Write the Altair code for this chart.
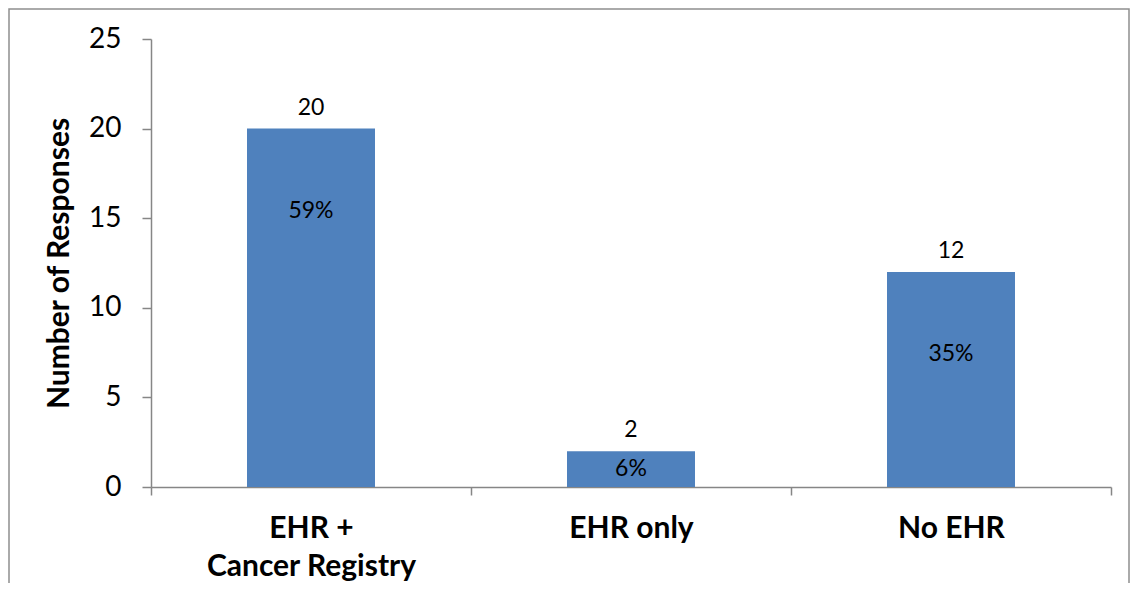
import altair as alt
import pandas as pd

categories = ["EHR +\nCancer Registry", "EHR only", "No EHR"]
counts = [20, 2, 12]
percents = [59, 6, 35]

df = pd.DataFrame({"cat": categories, "count": counts, "pct": percents})

FONT = "Lato"
GRAY = "#868686"

x_enc = alt.X(
    "cat:N",
    sort=categories,
    title=None,
    scale=alt.Scale(paddingInner=0, paddingOuter=0),
    axis=alt.Axis(
        labelAngle=0,
        labelFont=FONT,
        labelFontSize=30,
        labelFontWeight="bold",
        labelColor="black",
        labelPadding=18,
        labelLineHeight=38,
        labelLimit=0,
        labelExpr="split(datum.label, '\\n')",
        tickBand="extent",
        tickSize=8,
        tickColor=GRAY,
        tickWidth=1.5,
        domainColor=GRAY,
        domainWidth=1.5,
    ),
)

y_scale = alt.Scale(domain=[0, 25], nice=False)

base = alt.Chart(df)

bars = base.mark_bar(color="#4F81BD", width=alt.RelativeBandSize(0.4)).encode(
    x=x_enc,
    y=alt.Y(
        "count:Q",
        scale=y_scale,
        title="Number of Responses",
        axis=alt.Axis(
            values=[0, 5, 10, 15, 20, 25],
            grid=False,
            labelFont=FONT,
            labelFontSize=28,
            labelColor="black",
            labelPadding=21,
            tickSize=9,
            tickColor=GRAY,
            tickWidth=1.5,
            domainColor=GRAY,
            domainWidth=1.5,
            titleFont=FONT,
            titleFontSize=30,
            titleFontWeight="bold",
            titleColor="black",
            titlePadding=14,
        ),
    ),
)

count_labels = base.mark_text(
    font=FONT, fontSize=23, color="black", baseline="alphabetic", dy=-14
).encode(
    x=alt.X("cat:N", sort=categories),
    y=alt.Y("count:Q", scale=y_scale),
    text=alt.Text("count:Q"),
)

pct_labels = base.transform_calculate(
    ypos="datum.count - min(datum.count / 2, 4.6)",
    label="datum.pct + '%'",
).mark_text(font=FONT, fontSize=23, color="black", baseline="middle").encode(
    x=alt.X("cat:N", sort=categories),
    y=alt.Y("ypos:Q", scale=y_scale),
    text="label:N",
)

frame = alt.Chart(pd.DataFrame({"a": [0]})).mark_rect(
    fillOpacity=0, stroke="#8e8e8e", strokeWidth=1.5
).encode(
    x=alt.value(-142),
    x2=alt.value(978),
    y=alt.value(-30),
    y2=alt.value(546),
)

chart = (
    alt.layer(frame, bars, count_labels, pct_labels)
    .properties(
        width=960,
        height=448,
        autosize=alt.AutoSizeParams(type="none"),
        padding={"left": 143, "top": 31, "right": 20, "bottom": 96},
    )
    .configure_view(stroke=None)
)

chart.save("out.html", embed_options={"renderer": "svg", "actions": False})
